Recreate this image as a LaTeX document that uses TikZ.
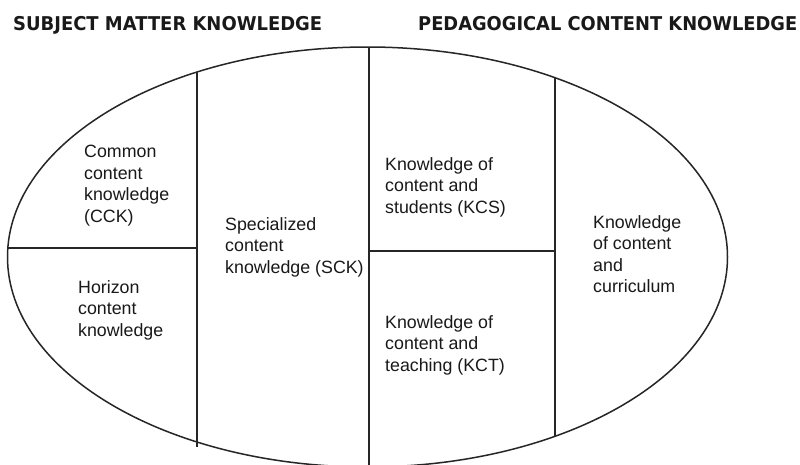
\documentclass[tikz,border=0pt]{standalone}
\usepackage{fontspec}
\usetikzlibrary{shapes.geometric}
\setmainfont{Liberation Sans}
\newfontfamily\titlefont{DejaVu Sans}
\begin{document}
\begin{tikzpicture}[x=1pt,y=-1pt,
  lbl/.style={anchor=north west,inner sep=0pt,align=left,
    font=\fontsize{17.8}{21.5}\selectfont,text=black!90},
  ttl/.style={anchor=north west,inner sep=0pt,
    font=\titlefont\bfseries\fontsize{19}{22}\selectfont,text=black!90},
  bline/.style={draw=black!85,line width=1.5pt}]
\useasboundingbox (0,0) rectangle (800,464);
\clip (0,0) rectangle (800,464);
\fill[white] (0,0) rectangle (800,464);
% titles
\node[ttl] (smk) at (13,16) {\resizebox{309pt}{\height}{SUBJECT MATTER KNOWLEDGE}};
\node[ttl] (pck) at (418,16) {\resizebox{379pt}{\height}{PEDAGOGICAL CONTENT KNOWLEDGE}};
% ellipse
\node[bline,ellipse,minimum width=720pt,minimum height=420pt,inner sep=0pt] (oval) at (367.5,257) {};
% coordinates
\coordinate (v1t) at (197,72);
\coordinate (v1b) at (197,447);
\coordinate (v2t) at (369,47);
\coordinate (v2b) at (369,470);
\coordinate (v3t) at (555,78);
\coordinate (v3b) at (555,436);
\coordinate (h1l) at (8,248);
\coordinate (h1r) at (197,248);
\coordinate (h2l) at (369,251);
\coordinate (h2r) at (555,251);
\draw[bline] (v1t) -- (v1b);
\draw[bline] (v2t) -- (v2b);
\draw[bline] (v3t) -- (v3b);
\draw[bline] (h1l) -- (h1r);
\draw[bline] (h2l) -- (h2r);
% labels
\node[lbl] (cck) at (84,145) {Common\\content\\knowledge\\(CCK)};
\node[lbl] (hck) at (78,280) {Horizon\\content\\knowledge};
\node[lbl] (sck) at (225,217) {Specialized\\content\\knowledge (SCK)};
\node[lbl] (kcs) at (385,157) {Knowledge of\\content and\\students (KCS)};
\node[lbl] (kct) at (385,315) {Knowledge of\\content and\\teaching (KCT)};
\node[lbl] (kcc) at (593,215) {Knowledge\\of content\\and\\curriculum};
\end{tikzpicture}
\end{document}
